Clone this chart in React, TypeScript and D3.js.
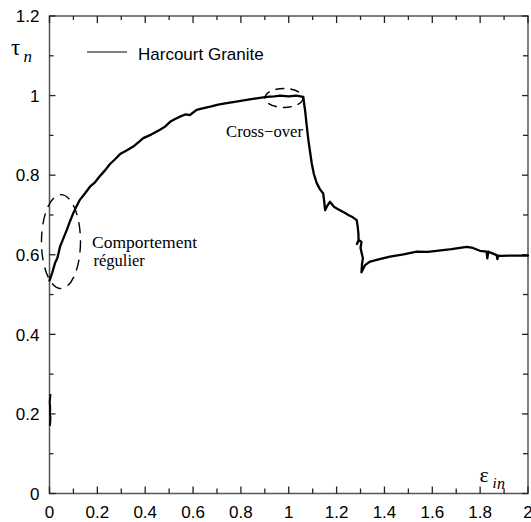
import React from 'react';
import * as d3 from 'd3';

const W = 531;
const H = 522;

// Main series: Harcourt Granite (normalized strain vs normalized stress)
const curveX = [0.0, 0.012, 0.023, 0.033, 0.044, 0.058, 0.072, 0.085, 0.099, 0.113, 0.127, 0.148, 0.169, 0.19, 0.211, 0.232, 0.253, 0.274, 0.295, 0.322, 0.35, 0.37, 0.392, 0.425, 0.462, 0.483, 0.504, 0.525, 0.545, 0.57, 0.587, 0.595, 0.615, 0.64, 0.672, 0.705, 0.741, 0.78, 0.824, 0.865, 0.908, 0.94, 0.964, 1.0, 1.03, 1.061, 1.064, 1.068, 1.075, 1.082, 1.09, 1.096, 1.105, 1.117, 1.13, 1.144, 1.148, 1.152, 1.16, 1.172, 1.19, 1.214, 1.232, 1.249, 1.268, 1.284, 1.288, 1.291, 1.292, 1.285, 1.292, 1.304, 1.3, 1.305, 1.31, 1.306, 1.304, 1.319, 1.34, 1.38, 1.423, 1.48, 1.535, 1.58, 1.618, 1.68, 1.744, 1.77, 1.799, 1.827, 1.83, 1.834, 1.841, 1.869, 1.872, 1.876, 1.883, 1.94, 2.0];
const curveY = [0.535, 0.556, 0.579, 0.592, 0.62, 0.641, 0.662, 0.683, 0.704, 0.722, 0.738, 0.754, 0.771, 0.782, 0.798, 0.812, 0.828, 0.84, 0.853, 0.862, 0.872, 0.882, 0.893, 0.902, 0.914, 0.922, 0.934, 0.941, 0.947, 0.953, 0.951, 0.955, 0.964, 0.968, 0.972, 0.977, 0.981, 0.985, 0.989, 0.993, 0.997, 0.998, 1.0, 0.998, 1.0, 0.997, 0.98, 0.964, 0.925, 0.888, 0.855, 0.83, 0.803, 0.78, 0.765, 0.754, 0.735, 0.712, 0.722, 0.733, 0.72, 0.712, 0.706, 0.7, 0.694, 0.687, 0.672, 0.654, 0.635, 0.627, 0.637, 0.632, 0.617, 0.604, 0.591, 0.575, 0.556, 0.574, 0.583, 0.589, 0.595, 0.601, 0.608, 0.607, 0.61, 0.614, 0.62, 0.617, 0.61, 0.608, 0.591, 0.608, 0.606, 0.599, 0.589, 0.598, 0.597, 0.598, 0.598];

// Short initial segment near zero strain
const lowX = [0.002, 0.004, 0.002, 0.003, 0.001, 0.004];
const lowY = [0.17, 0.19, 0.2, 0.215, 0.23, 0.25];

const xTicks = [0, 0.2, 0.4, 0.6, 0.8, 1, 1.2, 1.4, 1.6, 1.8, 2];
const xTickLabels = ['0', '0.2', '0.4', '0.6', '0.8', '1', '1.2', '1.4', '1.6', '1.8', '2'];
const xMinor = [0.1, 0.3, 0.5, 0.7, 0.9, 1.1, 1.3, 1.5, 1.7, 1.9];
const yTicks = [0, 0.2, 0.4, 0.6, 0.8, 1, 1.2];
const yTickLabels = ['0', '0.2', '0.4', '0.6', '0.8', '1', '1.2'];
const yMinor = [0.1, 0.3, 0.5, 0.7, 0.9, 1.1];

const legendLabel = 'Harcourt Granite';

export default function App() {
  const left = 49.5, right = 528, top = 16, bottom = 493.5;
  const x = d3.scaleLinear().domain([0, 2]).range([left, right]);
  const y = d3.scaleLinear().domain([0, 1.2]).range([bottom, top]);

  const line = d3.line<number>()
    .x((_, i) => x(curveX[i]))
    .y((d) => y(d));
  const lowLine = d3.line<number>()
    .x((_, i) => x(lowX[i]))
    .y((d) => y(d));

  const sans = 'Liberation Sans, Arial, sans-serif';
  const serif = 'Liberation Serif, Times New Roman, serif';
  const axisColor = '#555';
  const tickColor = '#222';

  return (
    <svg width={W} height={H} style={{ position: 'absolute', left: 0, top: 0, background: '#fff' }}>
      <rect x={0} y={0} width={W} height={H} fill="#fff" />
      {/* frame */}
      <rect x={left} y={top} width={right - left} height={bottom - top} fill="none" stroke={axisColor} strokeWidth={1.5} />
      {/* x ticks bottom & top */}
      {xTicks.map((t) => (
        <g key={'xt' + t}>
          <line x1={x(t)} x2={x(t)} y1={bottom} y2={bottom - 7} stroke={tickColor} strokeWidth={1.3} />
          <line x1={x(t)} x2={x(t)} y1={top} y2={top + 7} stroke={tickColor} strokeWidth={1.3} />
        </g>
      ))}
      {xMinor.map((t) => (
        <g key={'xm' + t}>
          <line x1={x(t)} x2={x(t)} y1={bottom} y2={bottom - 5} stroke={tickColor} strokeWidth={1.3} />
          <line x1={x(t)} x2={x(t)} y1={top} y2={top + 4} stroke={tickColor} strokeWidth={1.3} />
        </g>
      ))}
      {yTicks.map((t) => (
        <g key={'yt' + t}>
          <line x1={left} x2={left + 6} y1={y(t)} y2={y(t)} stroke={tickColor} strokeWidth={1.3} />
          <line x1={right} x2={right - 6} y1={y(t)} y2={y(t)} stroke={tickColor} strokeWidth={1.3} />
        </g>
      ))}
      {yMinor.map((t) => (
        <g key={'ym' + t}>
          <line x1={left} x2={left + 4} y1={y(t)} y2={y(t)} stroke={tickColor} strokeWidth={1.3} />
          <line x1={right} x2={right - 5} y1={y(t)} y2={y(t)} stroke={tickColor} strokeWidth={1.3} />
        </g>
      ))}
      {/* tick labels */}
      {xTicks.map((t, i) => (
        <text key={'xl' + t} x={x(t)} y={518} textAnchor="middle" fontFamily={sans} fontSize={17} fill="#000">
          {xTickLabels[i]}
        </text>
      ))}
      {yTicks.map((t, i) => (
        <text key={'yl' + t} x={39.5} y={y(t) + 6.3} textAnchor="end" fontFamily={sans} fontSize={17} fill="#000">
          {yTickLabels[i]}
        </text>
      ))}
      {/* axis titles */}
      <text x={11} y={55} fontFamily={serif} fontSize={23} fill="#000">τ</text>
      <text x={23.5} y={61.5} fontFamily={serif} fontStyle="italic" fontSize={17} fill="#000">n</text>
      <text x={479.5} y={482} fontFamily={serif} fontSize={22} fill="#000">ε</text>
      <text x={492.5} y={487.5} fontFamily={serif} fontStyle="italic" fontSize={15} fill="#000">i</text>
      <text x={497} y={488.5} fontFamily={serif} fontStyle="italic" fontSize={16} fill="#000">n</text>
      {/* legend */}
      <line x1={87} x2={127} y1={52} y2={52} stroke="#000" strokeWidth={1.2} />
      <text x={138} y={60} fontFamily={sans} fontSize={17} fill="#000">{legendLabel}</text>
      {/* data */}
      <path d={line(curveY) ?? ''} fill="none" stroke="#000" strokeWidth={2.3} strokeLinejoin="round" strokeLinecap="round" />
      <path d={lowLine(lowY) ?? ''} fill="none" stroke="#000" strokeWidth={2} strokeLinejoin="round" />
      {/* annotations */}
      <ellipse cx={x(0.048)} cy={y(0.633)} rx={19.5} ry={47} fill="none" stroke="#000" strokeWidth={1.4} strokeDasharray="11 7" />
      <ellipse cx={x(0.98)} cy={y(0.994)} rx={19} ry={9.5} fill="none" stroke="#000" strokeWidth={1.4} strokeDasharray="9 6" />
      <text x={x(0.178)} y={y(0.617)} fontFamily={serif} fontSize={16.5} fill="#000" textLength={105} lengthAdjust="spacingAndGlyphs">Comportement</text>
      <text x={x(0.184)} y={y(0.572)} fontFamily={serif} fontSize={16.5} fill="#000">régulier</text>
      <text x={x(0.738)} y={y(0.895)} fontFamily={serif} fontSize={16.5} fill="#000" textLength={77} lengthAdjust="spacingAndGlyphs">Cross−over</text>
    </svg>
  );
}
